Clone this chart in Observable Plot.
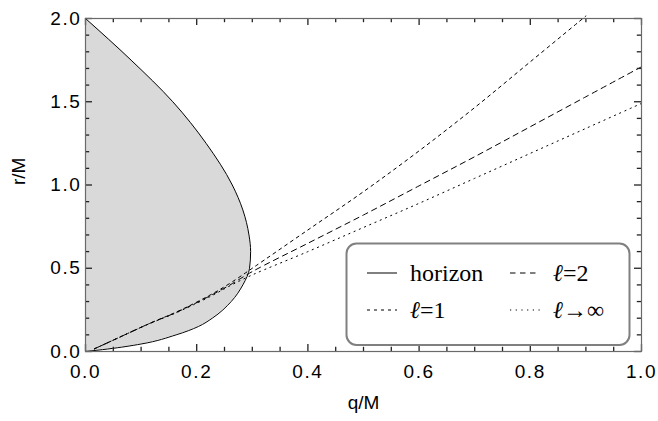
<!DOCTYPE html>
<html>
<head>
<meta charset="utf-8">
<script src="https://cdn.jsdelivr.net/npm/d3@7"></script>
<script src="https://cdn.jsdelivr.net/npm/@observablehq/plot@0.6"></script>
<style>
  html, body { margin: 0; padding: 0; background: white; }
  #chart svg { font-family: "Liberation Sans", Arial, Helvetica, sans-serif !important; }
  g[aria-label$="tick label"] text { letter-spacing: 1.6px; }
</style>
</head>
<body>
<div id="chart"></div>
<script>
// ---- data ----
const horizonR = [0, 0.015, 0.045, 0.1, 0.15, 0.2, 0.3, 0.4, 0.5, 0.6, 0.7, 0.85, 1.0, 1.25, 1.5, 1.75, 2.0];
const horizonQ = [0, 0.04, 0.1, 0.163, 0.203, 0.228, 0.262, 0.283, 0.295, 0.297, 0.294, 0.283, 0.264, 0.217, 0.157, 0.082, 0];

const l1Q = [0.016, 0.055, 0.115, 0.16, 0.195, 0.23, 0.26, 0.30, 0.40, 0.50, 0.60, 0.70, 0.80, 0.90];
const l1R = [0.016, 0.076, 0.168, 0.232, 0.288, 0.35, 0.41, 0.50, 0.73, 0.96, 1.205, 1.465, 1.74, 2.015];

const l2Q = [0.016, 0.055, 0.115, 0.16, 0.195, 0.23, 0.26, 0.30, 0.40, 0.50, 0.60, 0.70, 0.80, 0.90, 1.0];
const l2R = [0.016, 0.076, 0.168, 0.23, 0.285, 0.345, 0.40, 0.48, 0.65, 0.82, 0.995, 1.17, 1.35, 1.53, 1.71];

const linfQ = [0.016, 0.055, 0.115, 0.16, 0.195, 0.23, 0.26, 0.30, 0.40, 0.50, 0.60, 0.70, 0.80, 0.90, 1.0];
const linfR = [0.016, 0.076, 0.167, 0.228, 0.282, 0.34, 0.395, 0.46, 0.60, 0.745, 0.89, 1.04, 1.19, 1.34, 1.49];

const xMajor = [0, 0.2, 0.4, 0.6, 0.8, 1.0];
const xMinor = [0.05, 0.1, 0.15, 0.25, 0.3, 0.35, 0.45, 0.5, 0.55, 0.65, 0.7, 0.75, 0.85, 0.9, 0.95];
const yMajor = [0, 0.5, 1.0, 1.5, 2.0];
const yMinor = [0.1, 0.2, 0.3, 0.4, 0.6, 0.7, 0.8, 0.9, 1.1, 1.2, 1.3, 1.4, 1.6, 1.7, 1.8, 1.9];

const xLabel = "q/M";
const yLabel = "r/M";
const legendNames = ["horizon", "=2", "=1", "→∞"];

// ---- build tables ----
const horizon = horizonR.map((r, i) => ({q: horizonQ[i], r}));
const l1 = l1Q.map((q, i) => ({q, r: l1R[i]}));
const l2 = l2Q.map((q, i) => ({q, r: l2R[i]}));
const linf = linfQ.map((q, i) => ({q, r: linfR[i]}));

const fmt = d3.format(".1f");
const tickColor = "#222";
const TW = 1.3;
const W = 658, H = 421, ML = 85, MR = 17, MT = 18, MB = 70;
const FW = W - ML - MR, FH = H - MT - MB;
const MAJ = 7, MIN = 4.2;
const id = d => d;

const chart = Plot.plot({
  width: W,
  height: H,
  marginLeft: ML,
  marginRight: MR,
  marginTop: MT,
  marginBottom: MB,
  x: {domain: [0, 1]},
  y: {domain: [0, 2]},
  style: {fontSize: "19px", background: "white", overflow: "visible"},
  marks: [
    Plot.areaX(horizon, {x: "q", y: "r", fill: "#d9d9d9", curve: "monotone-y"}),
    Plot.line(horizon, {x: "q", y: "r", curve: "monotone-y", stroke: "black", strokeWidth: 1}),
    Plot.line(l1, {x: "q", y: "r", curve: "catmull-rom", stroke: "black", strokeWidth: 1, strokeDasharray: "3,4"}),
    Plot.line(l2, {x: "q", y: "r", curve: "catmull-rom", stroke: "black", strokeWidth: 1, strokeDasharray: "5.5,4.5"}),
    Plot.line(linf, {x: "q", y: "r", curve: "catmull-rom", stroke: "black", strokeWidth: 1, strokeDasharray: "1.2,4.5"}),
    // inward ticks on all four sides
    Plot.ruleX(xMajor, {x: id, insetTop: FH - MAJ, stroke: tickColor, strokeWidth: TW}),
    Plot.ruleX(xMinor, {x: id, insetTop: FH - MIN, stroke: tickColor, strokeWidth: TW}),
    Plot.ruleX(xMajor, {x: id, insetBottom: FH - MAJ, stroke: tickColor, strokeWidth: TW}),
    Plot.ruleX(xMinor, {x: id, insetBottom: FH - MIN, stroke: tickColor, strokeWidth: TW}),
    Plot.ruleY(yMajor, {y: id, insetRight: FW - MAJ, stroke: tickColor, strokeWidth: TW}),
    Plot.ruleY(yMinor, {y: id, insetRight: FW - MIN, stroke: tickColor, strokeWidth: TW}),
    Plot.ruleY(yMajor, {y: id, insetLeft: FW - MAJ, stroke: tickColor, strokeWidth: TW}),
    Plot.ruleY(yMinor, {y: id, insetLeft: FW - MIN, stroke: tickColor, strokeWidth: TW}),
    Plot.frame({stroke: "#6a6a6a", strokeWidth: 1.2}),
    // tick labels
    Plot.axisX(xMajor, {anchor: "bottom", tickSize: 0, tickPadding: 12.5, tickFormat: fmt, label: null, fill: "black"}),
    Plot.axisY(yMajor, {anchor: "left", tickSize: 0, tickPadding: 4, tickFormat: fmt, label: null, fill: "black"}),
    // axis titles
    Plot.text([xLabel], {frameAnchor: "bottom", dy: 57, text: id, fontSize: 19, fill: "black"}),
    Plot.text([yLabel], {frameAnchor: "left", dx: -67, rotate: -90, text: id, fontSize: 19, fill: "black"})
  ]
});

document.getElementById("chart").appendChild(chart);

// ---- legend (inside the plot, lower right) ----
const svg = d3.select(chart);
const lg = svg.append("g")
  .attr("font-family", "'Liberation Serif', 'Times New Roman', serif")
  .attr("font-size", 24)
  .attr("text-anchor", "start");
lg.append("rect")
  .attr("x", 346.5).attr("y", 243.5).attr("width", 283).attr("height", 101.5)
  .attr("rx", 10).attr("ry", 10)
  .attr("fill", "white").attr("stroke", "#808080").attr("stroke-width", 2);

const entries = [
  {x: 367, y: 273, dash: null, name: legendNames[0], ell: false},
  {x: 510, y: 273, dash: "5.5,4.5", name: legendNames[1], ell: true},
  {x: 367, y: 310, dash: "3,4", name: legendNames[2], ell: true},
  {x: 510, y: 310, dash: "1.2,4.5", name: legendNames[3], ell: true}
];
for (const e of entries) {
  const ln = lg.append("line")
    .attr("x1", e.x).attr("x2", e.x + 30).attr("y1", e.y).attr("y2", e.y)
    .attr("stroke", "black").attr("stroke-width", 1);
  if (e.dash) ln.attr("stroke-dasharray", e.dash);
  const t = lg.append("text").attr("x", e.x + 43).attr("y", e.y + 8).attr("fill", "black")
    .style("font-family", "'Liberation Serif', 'Times New Roman', serif");
  if (e.ell) t.append("tspan").attr("font-style", "italic").text("ℓ");
  t.append("tspan").text(e.name);
}
</script>
</body>
</html>
